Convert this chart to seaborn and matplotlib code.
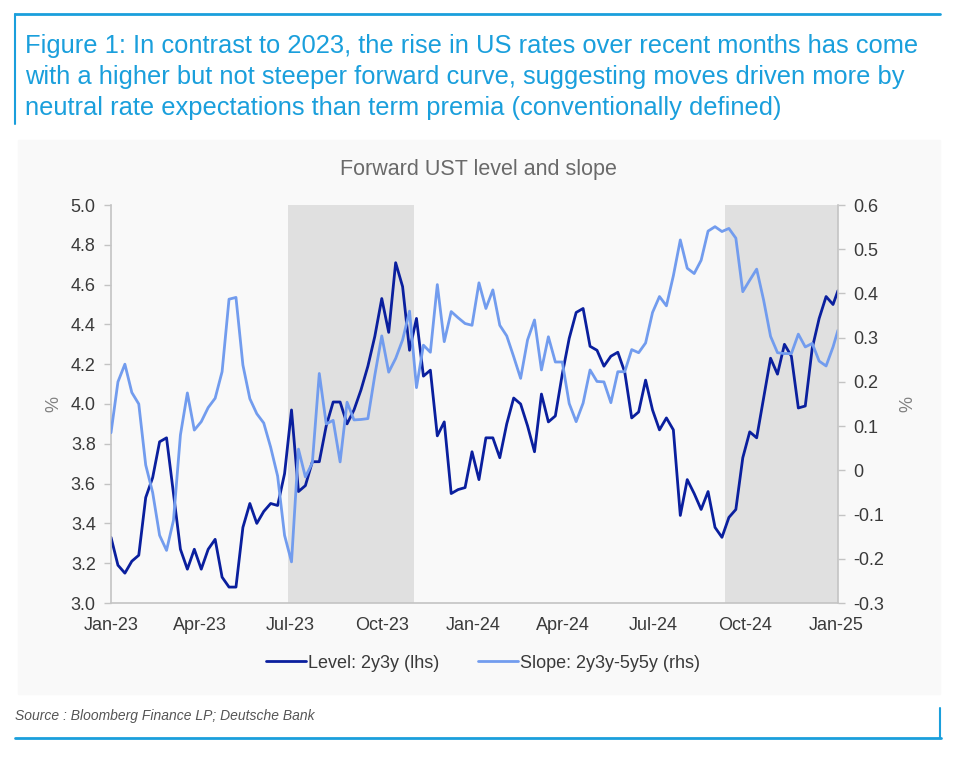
import matplotlib
matplotlib.use("Agg")
import matplotlib.pyplot as plt
import matplotlib.dates as mdates
import matplotlib.ticker as mticker
from matplotlib.lines import Line2D
from matplotlib.patches import Rectangle
import pandas as pd
import seaborn as sns

# weekly observations, last one is a partial week
dates = list(pd.date_range("2023-01-01", periods=105, freq="7D")) + [pd.Timestamp("2025-01-03")]

# Level: 2y3y forward (lhs, %)
level = [
    3.33, 3.19, 3.15, 3.21, 3.24, 3.53, 3.63, 3.81, 3.83, 3.55,
    3.27, 3.17, 3.27, 3.17, 3.27, 3.32, 3.13, 3.08, 3.08, 3.38,
    3.50, 3.40, 3.46, 3.50, 3.49, 3.65, 3.97, 3.56, 3.59, 3.71,
    3.71, 3.89, 4.01, 4.01, 3.90, 3.97, 4.07, 4.19, 4.34, 4.53,
    4.36, 4.71, 4.59, 4.27, 4.43, 4.14, 4.17, 3.84, 3.91, 3.55,
    3.57, 3.58, 3.76, 3.62, 3.83, 3.83, 3.73, 3.90, 4.03, 4.00,
    3.89, 3.76, 4.05, 3.91, 3.94, 4.15, 4.33, 4.46, 4.48, 4.29,
    4.27, 4.19, 4.24, 4.26, 4.16, 3.93, 3.96, 4.12, 3.97, 3.87,
    3.93, 3.87, 3.44, 3.62, 3.55, 3.47, 3.56, 3.38, 3.33, 3.43,
    3.47, 3.73, 3.86, 3.83, 4.03, 4.23, 4.15, 4.30, 4.24, 3.98,
    3.99, 4.28, 4.43, 4.54, 4.50, 4.57,
]

# Slope: 2y3y-5y5y (rhs, %)
slope = [
    0.085, 0.200, 0.240, 0.176, 0.150, 0.012, -0.050, -0.147, -0.181, -0.113,
    0.080, 0.175, 0.091, 0.110, 0.142, 0.163, 0.223, 0.387, 0.391, 0.238,
    0.162, 0.128, 0.107, 0.052, -0.013, -0.147, -0.207, 0.048, -0.015, 0.017,
    0.219, 0.105, 0.113, 0.019, 0.154, 0.114, 0.115, 0.117, 0.215, 0.304,
    0.222, 0.253, 0.295, 0.360, 0.187, 0.283, 0.267, 0.420, 0.291, 0.359,
    0.345, 0.332, 0.328, 0.424, 0.366, 0.408, 0.328, 0.304, 0.257, 0.208,
    0.295, 0.340, 0.227, 0.302, 0.245, 0.245, 0.151, 0.110, 0.152, 0.227,
    0.201, 0.200, 0.153, 0.223, 0.223, 0.273, 0.266, 0.288, 0.357, 0.393,
    0.372, 0.440, 0.521, 0.457, 0.445, 0.475, 0.541, 0.551, 0.540, 0.547,
    0.525, 0.404, 0.430, 0.455, 0.385, 0.303, 0.266, 0.264, 0.264, 0.308,
    0.279, 0.287, 0.247, 0.236, 0.279, 0.317,
]

shade_starts = ["2023-06-28", "2024-09-11"]
shade_ends = ["2023-11-02", "2025-01-03"]

level_ticks = [3.0, 3.2, 3.4, 3.6, 3.8, 4.0, 4.2, 4.4, 4.6, 4.8, 5.0]
slope_ticks = [-0.3, -0.2, -0.1, 0.0, 0.1, 0.2, 0.3, 0.4, 0.5, 0.6]

df = pd.DataFrame({"date": dates, "level": level, "slope": slope})

sns.set_theme(style="white")
plt.rcParams["font.family"] = ["Liberation Sans", "DejaVu Sans"]

DB_BLUE = "#1a9fdc"
DARK = "#0a1f9e"
LIGHT = "#729cee"
GRID = "#c4c4c4"
TXT = "#3a3a3a"

W, H = 960, 761
fig = plt.figure(figsize=(9.6, 7.61), dpi=100)
fig.patch.set_facecolor("white")

# light panel behind the chart
fig.patches.append(Rectangle((18 / W, 1 - 694 / H), 922 / W, 554 / H,
                             transform=fig.transFigure, color="#f9f9f9", zorder=-10))

ax = fig.add_axes([111 / W, 1 - 603 / H, 727 / W, 398 / H])
ax.set_facecolor("none")
ax2 = ax.twinx()

for s, e in zip(shade_starts, shade_ends):
    ax.axvspan(pd.Timestamp(s), pd.Timestamp(e), color="#e0e0e0", lw=0, zorder=0)

sns.lineplot(data=df, x="date", y="level", ax=ax, color=DARK, lw=2.0,
             label="Level: 2y3y (lhs)", legend=False)
sns.lineplot(data=df, x="date", y="slope", ax=ax2, color=LIGHT, lw=2.0,
             label="Slope: 2y3y-5y5y (rhs)", legend=False)

ax.set_xlim(dates[0], dates[-1])
ax.set_ylim(3.0, 5.0)
ax2.set_ylim(-0.3, 0.6)
ax.set_yticks(level_ticks)
ax2.set_yticks(slope_ticks)
ax.yaxis.set_major_formatter(mticker.FormatStrFormatter("%.1f"))
ax2.yaxis.set_major_formatter(mticker.FuncFormatter(lambda v, p: "0" if abs(v) < 1e-9 else f"{v:.1f}"))
ax.xaxis.set_major_locator(mdates.MonthLocator(bymonth=[1, 4, 7, 10]))
ax.xaxis.set_major_formatter(mdates.DateFormatter("%b-%y"))

ax.set_xlabel("")
ax.set_ylabel("%", fontsize=13, color="#808080", labelpad=6)
ax2.set_ylabel("%", fontsize=13, color="#808080", labelpad=11)

for a in (ax, ax2):
    for side in ("top", "left", "right", "bottom"):
        a.spines[side].set_visible(False)
ax.spines["left"].set_visible(True)
ax.spines["bottom"].set_visible(True)
ax2.spines["right"].set_visible(True)
for sp in (ax.spines["left"], ax.spines["bottom"], ax2.spines["right"]):
    sp.set_color(GRID)
    sp.set_linewidth(1.2)

ax.tick_params(axis="both", which="major", labelsize=13, colors=TXT,
               length=5, width=1, direction="out", pad=6)
ax.tick_params(axis="both", color=GRID)
ax2.tick_params(axis="y", labelsize=13, colors=TXT, length=5, width=1,
                direction="out", pad=6, color=GRID)
ax.tick_params(axis="x", pad=5)

handles = [ax.lines[0], ax2.lines[0]]
labels = ["Level: 2y3y (lhs)", "Slope: 2y3y-5y5y (rhs)"]
fig.legend(handles, labels, loc="center", bbox_to_anchor=(483 / W, 1 - 663 / H),
           ncol=2, frameon=False, fontsize=13, handlelength=2.2,
           columnspacing=2.2, handletextpad=0.1, labelcolor=TXT)

fig.text(25 / W, 1 - 34 / H,
         "Figure 1: In contrast to 2023, the rise in US rates over recent months has come\n"
         "with a higher but not steeper forward curve, suggesting moves driven more by\n"
         "neutral rate expectations than term premia (conventionally defined)",
         color=DB_BLUE, fontsize=18.4, va="top", ha="left", linespacing=1.36)

fig.text(478 / W, 1 - 170 / H, "Forward UST level and slope", ha="center", va="center",
         fontsize=15.5, color="#6a6a6a")

fig.text(15 / W, 1 - 716 / H, "Source : Bloomberg Finance LP; Deutsche Bank",
         ha="left", va="center", fontsize=10, style="italic", color="#555555")

# frame lines of the exhibit
fig.add_artist(Line2D([15 / W, 940 / W], [1 - 14 / H, 1 - 14 / H], color=DB_BLUE, lw=2))
fig.add_artist(Line2D([15 / W, 15 / W], [1 - 14 / H, 1 - 124 / H], color=DB_BLUE, lw=1.5))
fig.add_artist(Line2D([15 / W, 941 / W], [1 - 738 / H, 1 - 738 / H], color=DB_BLUE, lw=2))
fig.add_artist(Line2D([940 / W, 940 / W], [1 - 708 / H, 1 - 738 / H], color=DB_BLUE, lw=1.5))

fig.savefig("out.png", dpi=100)
